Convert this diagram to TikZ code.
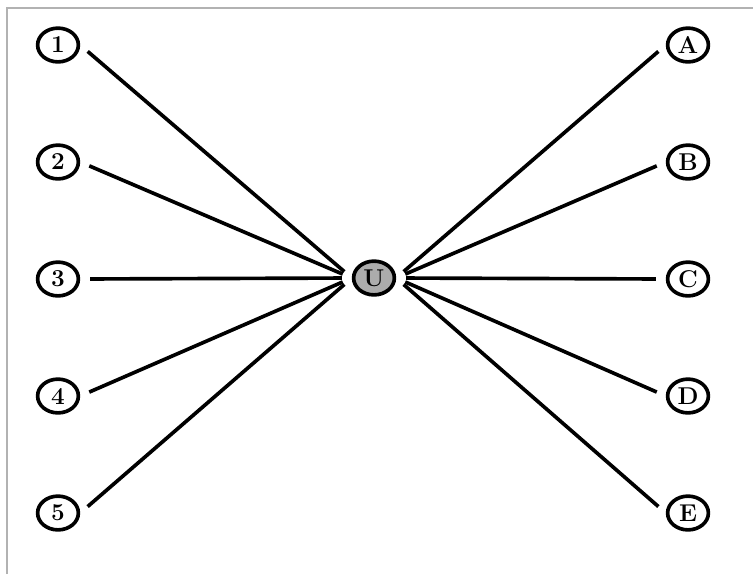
\documentclass[tikz,border=0pt]{standalone}
\usetikzlibrary{shapes.geometric}

\begin{document}
\begin{tikzpicture}[x=0.025cm,y=-0.025cm,
  vtx/.style={ellipse,draw=black,line width=2.6pt,fill=white,minimum width=29pt,minimum height=24pt,inner sep=0pt,font=\bfseries\LARGE},
  hub/.style={vtx,fill=gray!65},
  edge/.style={line width=2.6pt,black,shorten <=7pt,shorten >=7pt}]
\useasboundingbox (0,0) rectangle (753,574);
\draw[gray!60,line width=0.8pt] (7,574) -- (7,8) -- (753,8);

\node[hub] (U) at (374,278) {U};

\foreach \lab [count=\i] in {1,2,3,4,5}
  \node[vtx] (L\i) at (58,{45+(\i-1)*117}) {\lab};
\foreach \lab [count=\i] in {A,B,C,D,E}
  \node[vtx] (R\i) at (688,{45+(\i-1)*117}) {\lab};

\foreach \i in {1,...,5}{
  \draw[edge] (L\i.east) -- (U.west);
  \draw[edge] (U.east) -- (R\i.west);
}
\end{tikzpicture}
\end{document}
